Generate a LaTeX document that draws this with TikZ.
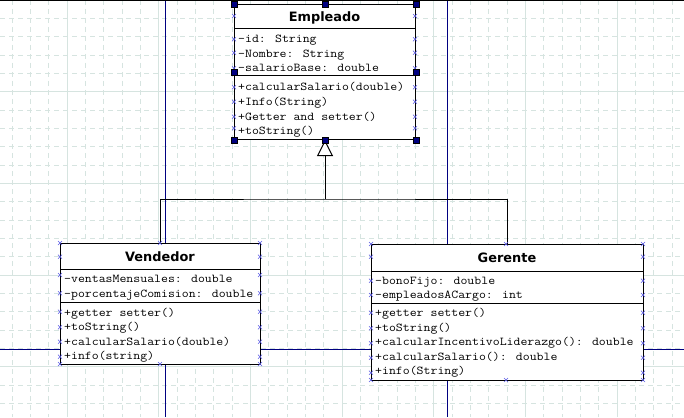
\documentclass[tikz,border=0pt]{standalone}
\usepackage{fontspec}
\newfontfamily\titlefont{DejaVu Sans}
\newfontfamily\memberfont[FakeStretch=1.12]{Latin Modern Mono}
\usetikzlibrary{arrows.meta,positioning}

\definecolor{gridline}{RGB}{214,228,224}
\definecolor{pagenavy}{RGB}{0,0,128}
\definecolor{portblue}{RGB}{90,90,230}

\tikzset{
  minorgrid/.style={gridline, line width=0.8pt, dash pattern=on 5pt off 4pt},
  majorgrid/.style={gridline, line width=0.9pt},
  pageline/.style={pagenavy, line width=1pt},
  classbox/.style={draw=black, fill=white, line width=1pt, anchor=north west, inner sep=0pt},
  classname/.style={font=\titlefont\bfseries\fontsize{12.9}{15}\selectfont, anchor=base},
  member/.style={font=\memberfont\fontsize{12}{14}\selectfont, anchor=base west, inner sep=0pt},
  portmark/.style={portblue, line width=0.6pt},
  handle/.style={fill=pagenavy, draw=black, line width=0.4pt},
  inherit/.style={line width=1pt, -{Triangle[length=16pt, width=16pt, fill=white]}}
}
\newcommand\portat[1]{\draw[portmark] (#1) +(-2pt,-2pt) -- +(2pt,2pt) +(-2pt,2pt) -- +(2pt,-2pt);}

\begin{document}
\begin{tikzpicture}[x=1pt, y=-1pt]
    \useasboundingbox (0,0) rectangle (684,417);
    \fill[white] (0,0) rectangle (684,417);

    % grid
    \foreach \j in {-3,...,33}
      \draw[minorgrid] ({67+18.333*\j},0) -- ++(0,417);
    \foreach \j in {1,...,22}
      \draw[minorgrid] (0,{18.333*\j}) -- ++(684,0);
    \foreach \j in {0,...,6}
      \draw[majorgrid] ({67+91.667*\j},0) -- ++(0,417);
    \foreach \j in {1,...,4}
      \draw[majorgrid] (0,{91.667*\j}) -- ++(684,0);

    % page breaks
    \draw[pageline] (165,0) -- (165,417);
    \draw[pageline] (447,0) -- (447,417);
    \draw[pageline] (0,349) -- (684,349);
    \draw[line width=1pt] (0,0.5) -- (684,0.5);

    % classes
    \node[classbox, minimum width=181pt, minimum height=135pt] (empleado) at (234,4) {};
    \node[classbox, minimum width=200pt, minimum height=121pt] (vendedor) at (60,243) {};
    \node[classbox, minimum width=272pt, minimum height=136pt] (gerente) at (371,244) {};

    \draw[line width=1pt] (234,29) -- (415,29);
    \draw[line width=1pt] (234,76) -- (415,76);
    \draw[line width=1pt] (60,269) -- (260,269);
    \draw[line width=1pt] (60,302) -- (260,302);
    \draw[line width=1pt] (371,271) -- (643,271);
    \draw[line width=1pt] (371,303) -- (643,303);

    \node[classname] (empleado-name) at (324.5,21.5) {Empleado};
    \node[classname] (vendedor-name) at (160,261.5) {Vendedor};
    \node[classname] (gerente-name) at (507,262.5) {Gerente};

    \foreach \txt [count=\i] in {-id: String, -Nombre: String, -salarioBase: double}
      \node[member] (emp-a\i) at (238,{28.5+14.5*\i}) {\txt};
    \foreach \txt [count=\i] in {+calcularSalario(double), +Info(String), +Getter and setter(), +toString()}
      \node[member] (emp-m\i) at (238,{76.5+14.5*\i}) {\txt};

    \foreach \txt [count=\i] in {-ventasMensuales: double, -porcentajeComision: double}
      \node[member] (ven-a\i) at (64,{268+14.5*\i}) {\txt};
    \foreach \txt [count=\i] in {+getter setter(), +toString(), +calcularSalario(double), +info(string)}
      \node[member] (ven-m\i) at (64,{301.5+14.5*\i}) {\txt};

    \foreach \txt [count=\i] in {-bonoFijo: double, -empleadosACargo: int}
      \node[member] (ger-a\i) at (375,{269.5+14.5*\i}) {\txt};
    \foreach \txt [count=\i] in {+getter setter(), +toString(), +calcularIncentivoLiderazgo(): double, +calcularSalario(): double, +info(String)}
      \node[member] (ger-m\i) at (375,{302+14.5*\i}) {\txt};

    % inheritance
    \coordinate (rail) at (0,199);
    \coordinate (join) at (empleado.south |- rail);
    \draw[line width=1pt] (vendedor.north) |- (join) -| (gerente.north);
    \draw[inherit] (join) -- (empleado.south);

    % connection points
    \foreach \y in {16,39.3,52.7,68.3,87.3,101.7,116.7,128.3} {
      \portat{234,\y} \portat{415,\y}
    }
    \foreach \y in {243,256.7,275,293.3,311.7,327.3,341.7,356.7,364} {
      \portat{60,\y} \portat{260,\y}
    }
    \portat{160,243} \portat{160,364}
    \foreach \y in {244,256.7,280.7,295,312.7,328.3,343.3,357.7,372.7,380} {
      \portat{371,\y} \portat{643,\y}
    }
    \portat{506,244} \portat{506,380}

    % selection handles
    \foreach \a in {north west,north,north east,west,east,south west,south,south east}
      \draw[handle] ([shift={(-3pt,-3pt)}]empleado.\a) rectangle ++(6pt,6pt);
\end{tikzpicture}
\end{document}
